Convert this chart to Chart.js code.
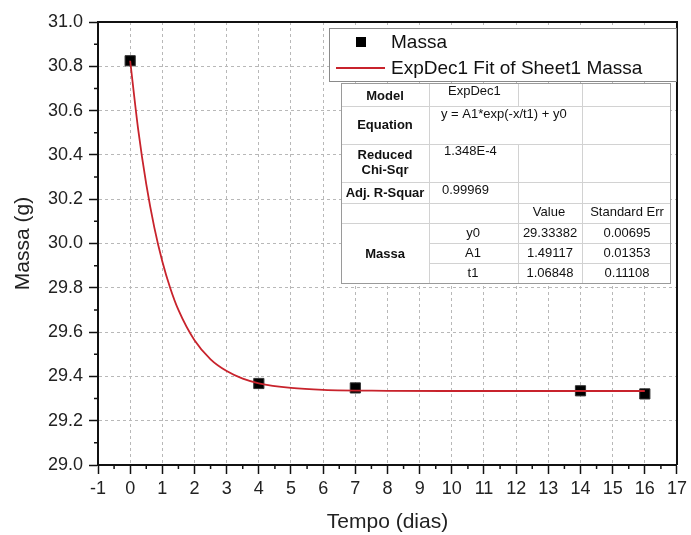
<!DOCTYPE html>
<html>
<head>
<meta charset="utf-8">
<script src="https://cdn.jsdelivr.net/npm/chart.js@4.4.0/dist/chart.umd.min.js"></script>
<style>
  html, body { margin: 0; padding: 0; background: #fff; }
  #wrap { width: 691px; height: 535px; }
</style>
</head>
<body>
<div id="wrap"><canvas id="massaChart" width="691" height="535"></canvas></div>
<script>
// massa medida em cada dia
const tempo = [0, 4, 7, 14, 16];
const massa = [30.825, 29.368, 29.348, 29.335, 29.321];

// curva ExpDec1 ajustada (pontos lidos ao longo da curva)
const ajusteTempo = [0, 0.25, 0.5, 0.75, 1, 1.25, 1.5, 2, 2.5, 3, 3.5, 4, 5, 6, 8, 10, 12, 14, 16];
const ajusteMassa = [30.825, 30.514, 30.268, 30.073, 29.919, 29.797, 29.700, 29.563, 29.477, 29.424,
                     29.390, 29.369, 29.348, 29.339, 29.335, 29.334, 29.334, 29.334, 29.334];

// marcas dos eixos
const xTicks = [-1, 0, 1, 2, 3, 4, 5, 6, 7, 8, 9, 10, 11, 12, 13, 14, 15, 16, 17];
const yTicks = [29.0, 29.2, 29.4, 29.6, 29.8, 30.0, 30.2, 30.4, 30.6, 30.8, 31.0];

// tabela de resultados do ajuste
const parametros = ['y0', 'A1', 't1'];
const valores = ['29.33382', '1.49117', '1.06848'];
const erros = ['0.00695', '0.01353', '0.11108'];

const FONTE = '"Liberation Sans", Arial, sans-serif';
const VERMELHO = '#c8232c';

// moldura, marcas menores, legenda e tabela
const extras = {
  id: 'extras',
  afterDraw(chart) {
    const { ctx, chartArea: a, scales: { x, y } } = chart;
    ctx.save();

    // topo e lado direito
    ctx.strokeStyle = '#111';
    ctx.lineWidth = 2;
    ctx.beginPath();
    ctx.moveTo(a.left, a.top);
    ctx.lineTo(a.right, a.top);
    ctx.lineTo(a.right, a.bottom);
    ctx.stroke();

    // marcas menores
    ctx.lineWidth = 1.5;
    ctx.beginPath();
    for (let i = 0; i < xTicks.length - 1; i++) {
      const px = x.getPixelForValue((xTicks[i] + xTicks[i + 1]) / 2);
      ctx.moveTo(px, a.bottom);
      ctx.lineTo(px, a.bottom + 4);
    }
    for (let i = 0; i < yTicks.length - 1; i++) {
      const py = y.getPixelForValue((yTicks[i] + yTicks[i + 1]) / 2);
      ctx.moveTo(a.left, py);
      ctx.lineTo(a.left - 4, py);
    }
    ctx.stroke();

    // legenda
    ctx.fillStyle = '#fff';
    ctx.fillRect(329, 28, 347, 53);
    ctx.strokeStyle = '#8a8a8a';
    ctx.lineWidth = 1;
    ctx.strokeRect(329.5, 28.5, 347, 53);

    const ds = chart.data.datasets;
    ctx.fillStyle = '#000';
    ctx.fillRect(356, 37, 10, 10);
    ctx.strokeStyle = VERMELHO;
    ctx.lineWidth = 1.8;
    ctx.beginPath();
    ctx.moveTo(336, 68);
    ctx.lineTo(385, 68);
    ctx.stroke();

    ctx.fillStyle = '#111';
    ctx.font = '19px ' + FONTE;
    ctx.textAlign = 'left';
    ctx.textBaseline = 'middle';
    ctx.fillText(ds[1].label, 391, 43);
    ctx.fillText(ds[0].label, 391, 69);

    // tabela
    const L = 341, R = 670, T = 83, B = 283;
    const c1 = 429, c2 = 518, c3 = 582;
    ctx.fillStyle = '#fff';
    ctx.fillRect(L, T, R - L, B - T);

    ctx.strokeStyle = '#d2d2d2';
    ctx.lineWidth = 1;
    ctx.beginPath();
    [106, 144, 182, 203, 223].forEach(v => { ctx.moveTo(L, v + 0.5); ctx.lineTo(R, v + 0.5); });
    [243, 263].forEach(v => { ctx.moveTo(c1, v + 0.5); ctx.lineTo(R, v + 0.5); });
    ctx.moveTo(c1 + 0.5, T); ctx.lineTo(c1 + 0.5, B);
    ctx.moveTo(c2 + 0.5, T); ctx.lineTo(c2 + 0.5, 106);
    ctx.moveTo(c2 + 0.5, 144); ctx.lineTo(c2 + 0.5, B);
    ctx.moveTo(c3 + 0.5, T); ctx.lineTo(c3 + 0.5, B);
    ctx.stroke();
    ctx.strokeStyle = '#9a9a9a';
    ctx.strokeRect(L + 0.5, T + 0.5, R - L, B - T);

    ctx.fillStyle = '#111';
    ctx.textAlign = 'center';
    ctx.font = 'bold 13px ' + FONTE;
    const m1 = (L + c1) / 2;
    ctx.fillText('Model', m1, 96);
    ctx.fillText('Equation', m1, 125);
    ctx.fillText('Reduced', m1, 155);
    ctx.fillText('Chi-Sqr', m1, 170);
    ctx.fillText('Adj. R-Squar', m1, 193);
    ctx.fillText('Massa', m1, 254);

    ctx.font = '13px ' + FONTE;
    ctx.textAlign = 'left';
    ctx.fillText('ExpDec1', 448, 91);
    ctx.fillText('y = A1*exp(-x/t1) + y0', 441, 114);
    ctx.fillText('1.348E-4', 444, 151);
    ctx.fillText('0.99969', 442, 190);

    ctx.textAlign = 'center';
    ctx.fillText('Value', 549, 212);
    ctx.fillText('Standard Err', 627, 212);
    parametros.forEach((p, i) => {
      const yy = 233 + i * 20;
      ctx.fillText(p, 473, yy);
      ctx.fillText(valores[i], 550, yy);
      ctx.fillText(erros[i], 627, yy);
    });

    ctx.restore();
  }
};

const ctx = document.getElementById('massaChart').getContext('2d');
new Chart(ctx, {
  type: 'scatter',
  data: {
    datasets: [
      {
        label: 'ExpDec1 Fit of Sheet1 Massa',
        data: ajusteTempo.map((t, i) => ({ x: t, y: ajusteMassa[i] })),
        showLine: true,
        borderColor: VERMELHO,
        borderWidth: 1.8,
        pointRadius: 0,
        cubicInterpolationMode: 'monotone',
        order: 0
      },
      {
        label: 'Massa',
        data: tempo.map((t, i) => ({ x: t, y: massa[i] })),
        pointStyle: 'rect',
        pointRadius: 7.2,
        backgroundColor: '#000',
        borderColor: '#333',
        borderWidth: 1,
        order: 1
      }
    ]
  },
  options: {
    responsive: false,
    animation: false,
    devicePixelRatio: 1,
    layout: { padding: { top: 22, right: 11, left: 0, bottom: 0 } },
    plugins: {
      legend: { display: false },
      tooltip: { enabled: false }
    },
    scales: {
      x: {
        type: 'linear',
        min: -1,
        max: 17,
        afterBuildTicks: s => { s.ticks = xTicks.map(v => ({ value: v })); },
        afterFit: s => { s.height = 70; },
        ticks: {
          color: '#222',
          font: { size: 18, family: FONTE },
          padding: 4,
          maxRotation: 0,
          autoSkip: false
        },
        grid: {
          color: '#b8b8b8',
          lineWidth: 1,
          tickLength: 9,
          tickColor: '#111',
          tickWidth: 1.5
        },
        border: { display: true, color: '#111', width: 2, dash: [3, 3] },
        title: {
          display: true,
          text: 'Tempo (dias)',
          color: '#222',
          font: { size: 21, family: FONTE },
          padding: { top: 0, bottom: 0 }
        }
      },
      y: {
        type: 'linear',
        min: 29,
        max: 31,
        afterBuildTicks: s => { s.ticks = yTicks.map(v => ({ value: v })); },
        afterFit: s => { s.width = 98; },
        ticks: {
          color: '#222',
          font: { size: 18, family: FONTE },
          padding: 6,
          callback: v => v.toFixed(1)
        },
        grid: {
          color: '#b8b8b8',
          lineWidth: 1,
          tickLength: 9,
          tickColor: '#111',
          tickWidth: 1.5
        },
        border: { display: true, color: '#111', width: 2, dash: [3, 3] },
        title: {
          display: true,
          text: 'Massa (g)',
          color: '#222',
          font: { size: 21, family: FONTE },
          padding: { top: 11, bottom: 0 }
        }
      }
    }
  },
  plugins: [extras]
});
</script>
</body>
</html>
